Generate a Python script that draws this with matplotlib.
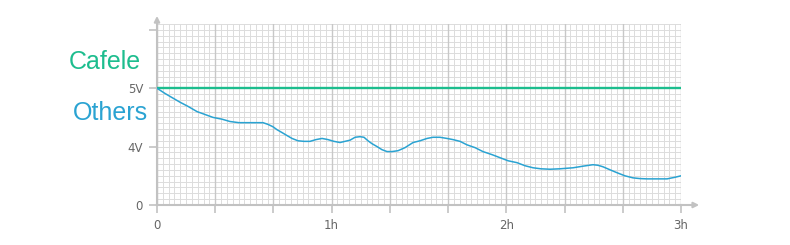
import numpy as np
import matplotlib.pyplot as plt
from matplotlib.ticker import FixedLocator, NullFormatter

# data (hours, volts)
hours = [0.0, 0.046, 0.086, 0.132, 0.177, 0.229, 0.275, 0.321, 0.372, 0.418,
         0.469, 0.515, 0.561, 0.607, 0.636, 0.664, 0.687, 0.716, 0.744, 0.773,
         0.807, 0.842, 0.876, 0.910, 0.945, 0.979, 1.013, 1.048, 1.076, 1.105,
         1.134, 1.162, 1.185, 1.208, 1.231, 1.260, 1.288, 1.317, 1.345, 1.380,
         1.420, 1.466, 1.506, 1.546, 1.580, 1.620, 1.660, 1.695, 1.735, 1.775,
         1.821, 1.866, 1.918, 1.964, 2.010, 2.061, 2.107, 2.153, 2.198, 2.250,
         2.307, 2.382, 2.439, 2.496, 2.525, 2.553, 2.594, 2.634, 2.679, 2.725,
         2.765, 2.805, 2.863, 2.920, 2.966, 3.0]
others = [5.00, 4.91, 4.84, 4.76, 4.69, 4.60, 4.55, 4.50, 4.47, 4.43,
          4.41, 4.41, 4.41, 4.41, 4.38, 4.34, 4.29, 4.24, 4.19, 4.14,
          4.10, 4.09, 4.09, 4.12, 4.14, 4.12, 4.09, 4.07, 4.09, 4.11,
          4.16, 4.17, 4.16, 4.10, 4.05, 4.00, 3.79, 3.66, 3.66, 3.72,
          3.93, 4.07, 4.10, 4.14, 4.16, 4.16, 4.14, 4.12, 4.09, 4.03,
          3.93, 3.66, 3.45, 3.24, 3.03, 2.90, 2.69, 2.55, 2.48, 2.45,
          2.48, 2.55, 2.66, 2.76, 2.72, 2.62, 2.41, 2.21, 2.00, 1.86,
          1.81, 1.79, 1.79, 1.79, 1.90, 2.00]
cafele_v = 5.0

y_ticks = [0, 4, 5, 6]
y_labels = ['0', '4V', '5V', '']
x_ticks = np.arange(0, 3.01, 1 / 3)
x_labels = ['0', '', '', '1h', '', '', '2h', '', '', '3h']

green = '#1dbd8e'
blue = '#2aa3d2'
axis_gray = '#c2c2c2'


def fwd(v):
    v = np.asarray(v, dtype=float)
    return np.where(v <= 4, v / 4, v - 3)


def inv(u):
    u = np.asarray(u, dtype=float)
    return np.where(u <= 1, u * 4, u + 3)


fig = plt.figure(figsize=(7.9, 2.45), dpi=100)
ax = fig.add_axes([157 / 790, 40 / 245, 524 / 790, 181 / 245])
ax.set_yscale('function', functions=(fwd, inv))
ax.set_xlim(0, 3)
ax.set_ylim(0, 6.1)

# grid
minor_x = np.arange(0, 3.001, 1 / 30)
minor_y = inv(np.arange(0, 3.101, 0.1))
for x in minor_x:
    ax.axvline(x, color='#dcdcdc', lw=0.7, zorder=0)
for y in minor_y:
    ax.axhline(y, color='#dcdcdc', lw=0.7, zorder=0)
for x in x_ticks:
    ax.axvline(x, color='#c8c8c8', lw=1.0, zorder=0)

ax.plot([0, 3], [cafele_v, cafele_v], color=green, lw=1.7, zorder=3)
ax.plot(hours, others, color=blue, lw=1.1, zorder=3)

ax.yaxis.set_major_locator(FixedLocator(y_ticks))
ax.set_yticklabels(y_labels)
ax.yaxis.set_minor_formatter(NullFormatter())
ax.yaxis.set_minor_locator(FixedLocator([]))
ax.set_xticks(x_ticks)
ax.set_xticklabels(x_labels)
ax.tick_params(colors=axis_gray, labelcolor='#666666', labelsize=8.5,
               direction='out', length=6, width=1.2, pad=4)

for s in ['top', 'right']:
    ax.spines[s].set_visible(False)
for s in ['left', 'bottom']:
    ax.spines[s].set_color(axis_gray)
    ax.spines[s].set_linewidth(1.5)

# axis arrows
ax.annotate('', xy=(0, 1.06), xytext=(0, 0.99), xycoords='axes fraction',
            arrowprops=dict(arrowstyle='-|>', color=axis_gray, lw=1.5,
                            mutation_scale=8), annotation_clip=False)
ax.annotate('', xy=(1.04, 0), xytext=(0.99, 0), xycoords='axes fraction',
            arrowprops=dict(arrowstyle='-|>', color=axis_gray, lw=1.5,
                            mutation_scale=8), annotation_clip=False)

fig.text(141 / 790, 1 - 62 / 245, 'Cafele', color=green, fontsize=18,
         family='Liberation Sans', ha='right', va='center')
fig.text(148 / 790, 1 - 113 / 245, 'Others', color=blue, fontsize=18,
         family='Liberation Sans', ha='right', va='center')

fig.savefig('out.png', dpi=100)
